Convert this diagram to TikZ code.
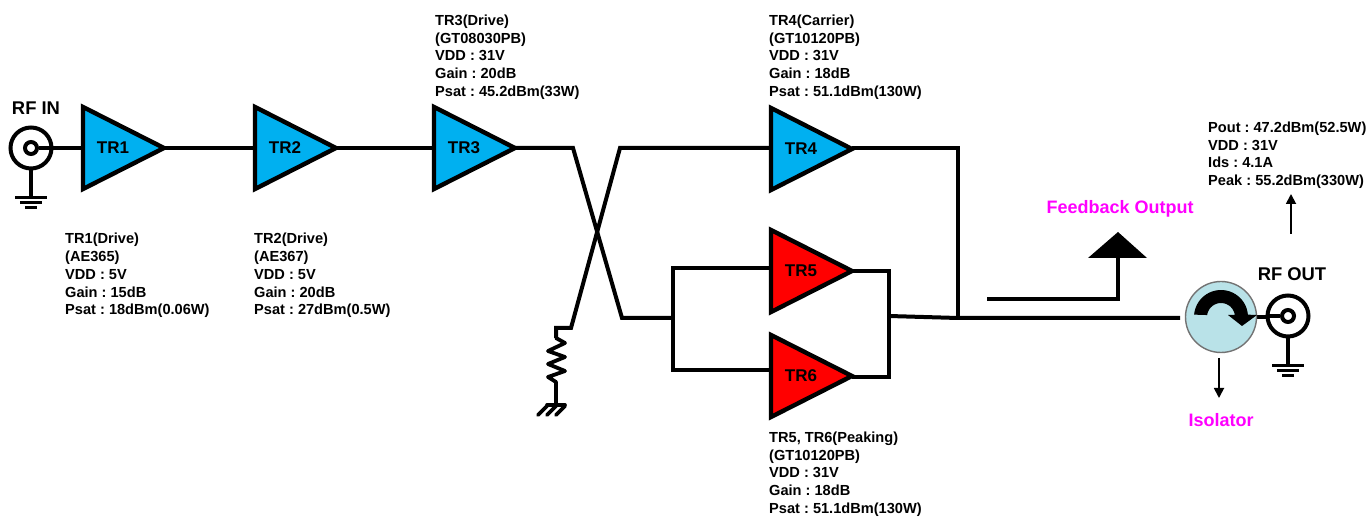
\documentclass[tikz,border=0pt]{standalone}
\usepackage{fontspec}
\setmainfont{Liberation Sans}
\usetikzlibrary{arrows.meta}
\definecolor{ampblue}{HTML}{00B0F0}
\definecolor{isofill}{HTML}{B9E2E8}
\definecolor{pink}{HTML}{FF00FF}
\tikzset{
  wire/.style={draw=black,line width=4pt,line join=miter},
  amptri/.style={draw=black,line width=4.4pt,line join=miter},
  amplabel/.style={font=\fontsize{17}{18}\selectfont\bfseries,inner sep=0pt},
  spec/.style={font=\fontsize{14.6}{17.8}\selectfont\bfseries\frenchspacing,align=left,anchor=north west,inner sep=0pt},
  rftitle/.style={font=\fontsize{18.4}{20}\selectfont\bfseries,inner sep=0pt},
  pinktext/.style={font=\fontsize{18}{20}\selectfont\bfseries,text=pink,inner sep=0pt},
  gndbar/.style={draw=black,line width=3pt},
  smallarrow/.style={draw=black,line width=1.8pt,-{Triangle[length=10pt,width=10pt]}}
}
\newcommand{\ampl}[4]{% name, left x, centre y, fill
  \coordinate (#1-in) at (#2,#3);
  \coordinate (#1-out) at ({#2+81},#3);
  \path[amptri,fill=#4] ({#2},{#3-41}) -- (#1-out) -- ({#2},{#3+41}) -- cycle;
  \node[amplabel] (#1) at ({#2+30},#3) {#1};
}
\newcommand{\bnc}[3]{% name, x, y
  \coordinate (#1) at (#2,#3);
  \node[circle,draw=black,line width=4pt,minimum size=41pt,inner sep=0pt,fill=white] (#1-ring) at (#1) {};
  \node[circle,draw=black,line width=4pt,minimum size=12pt,inner sep=0pt,fill=white] (#1-pin) at (#1) {};
  \coordinate (#1-g) at (#2,{#3+50});
  \draw[line width=3.6pt] (#1-ring.south) -- (#1-g);
  \draw[gndbar] ({#2-16},{#3+50}) -- ({#2+16},{#3+50});
  \draw[gndbar] ({#2-11},{#3+55}) -- ({#2+11},{#3+55});
  \draw[gndbar] ({#2-6},{#3+59.5}) -- ({#2+6},{#3+59.5});
}
\begin{document}
\begin{tikzpicture}[x=1pt,y=-1pt]
\useasboundingbox (0,0) rectangle (1369,518);

% named junctions
\coordinate (x3) at (573,148);
\coordinate (x3b) at (622,318);
\coordinate (j56) at (673,318);
\coordinate (x4) at (620,148);
\coordinate (x4b) at (571,328);
\coordinate (rt) at (556,328);
\coordinate (j5) at (673,268);
\coordinate (j6) at (673,370);
\coordinate (o5) at (889,271);
\coordinate (o6) at (889,377);
\coordinate (om) at (889,316);
\coordinate (o4) at (958,148);
\coordinate (o4b) at (958,318);
\coordinate (fb1) at (987,299);
\coordinate (fb2) at (1118,299);
\coordinate (fb3) at (1118,258);

% wires beneath the amplifiers
\draw[wire] (31,148) -- (83,148);
\draw[wire] (163,148) -- (255,148);
\draw[wire] (336,148) -- (434,148);
\draw[wire] (515,148) -- (x3) -- (x3b) -- (j56);
\draw[wire] (770,148) -- (x4) -- (x4b) -- (rt) -- (556,338);
\draw[wire] (770,268) -- (j5) -- (j6) -- (770,370);
\draw[wire] (852,271) -- (o5) -- (o6) -- (852,377);
\draw[wire] (852,148) -- (o4) -- (o4b);
\draw[wire] (om) -- (o4b) -- (1180,318);

% resistor and chassis ground
\draw[line width=3.8pt,line join=round,line cap=round]
  (556,338) -- (565,343) -- (548,351) -- (565,357) -- (548,364) -- (565,371) -- (548,377) -- (556,382) -- (556,405);
\draw[line width=3.6pt,line cap=round] (547,405) -- (565,405);
\draw[line width=3.6pt,line cap=round] (565,406) -- (556,415);
\draw[line width=3.6pt,line cap=round] (556,406) -- (547,415);
\draw[line width=3.6pt,line cap=round] (547,406) -- (538,415);

% amplifiers
\ampl{TR1}{83}{148}{ampblue}
\ampl{TR2}{255}{148}{ampblue}
\ampl{TR3}{434}{148}{ampblue}
\ampl{TR4}{771}{149}{ampblue}
\ampl{TR5}{771}{271}{red}
\ampl{TR6}{771}{376}{red}

% connectors
\draw[wire] (1255,317) -- (1288,317);
\bnc{rfin}{31}{148}
\bnc{rfout}{1288}{316}
\draw[line width=3.6pt] (rfin-ring.east) -- (rfin-pin.east);
\draw[line width=3.6pt] (rfout-ring.west) -- (rfout-pin.west);

% feedback output
\draw[line width=3.4pt] (fb1) -- (fb2) -- (fb3);
\fill (1088,258) -- (1118,232) -- (1147,258) -- cycle;
\node[pinktext] (fbl) at (1120,209) {Feedback Output};

% isolator
\node[circle,draw=black!55,line width=1.4pt,fill=isofill,minimum size=71pt,inner sep=0pt] (iso) at (1221,317) {};
\fill plot[domain=175:5,samples=30] ({1221+27*cos(\x)},{317-27*sin(\x)})
  -- (1257,315) -- (1242,326) -- (1228,315) -- (1235,315)
  -- plot[domain=5:172,samples=20] ({1221+14*cos(\x)},{317-14*sin(\x)}) -- cycle;
\node[pinktext] (isol) at (1221,420) {Isolator};
\coordinate (isoa) at (1219,358);
\coordinate (isob) at (1219,398);
\draw[smallarrow] (isoa) -- (isob);

% RF titles
\node[rftitle] (rfinl) at (36,108) {RF IN};
\node[rftitle] (rfoutl) at (1292,274) {RF OUT};

% output arrow
\coordinate (outa) at (1291,234);
\coordinate (outb) at (1291,194);
\draw[smallarrow] (outa) -- (outb);

% specifications
\node[spec] (s1) at (65,233) {TR1(Drive)\\(AE365)\\VDD : 5V\\Gain : 15dB\\Psat : 18dBm(0.06W)};
\node[spec] (s2) at (254,233) {TR2(Drive)\\(AE367)\\VDD : 5V\\Gain : 20dB\\Psat : 27dBm(0.5W)};
\node[spec] (s3) at (435,14.5) {TR3(Drive)\\(GT08030PB)\\VDD : 31V\\Gain : 20dB\\Psat : 45.2dBm(33W)};
\node[spec] (s4) at (769,14.5) {TR4(Carrier)\\(GT10120PB)\\VDD : 31V\\Gain : 18dB\\Psat : 51.1dBm(130W)};
\node[spec] (s5) at (769,431.5) {TR5, TR6(Peaking)\\(GT10120PB)\\VDD : 31V\\Gain : 18dB\\Psat : 51.1dBm(130W)};
\node[spec] (s6) at (1208,121.5) {Pout : 47.2dBm(52.5W)\\VDD : 31V\\Ids : 4.1A\\Peak : 55.2dBm(330W)};
\end{tikzpicture}
\end{document}
